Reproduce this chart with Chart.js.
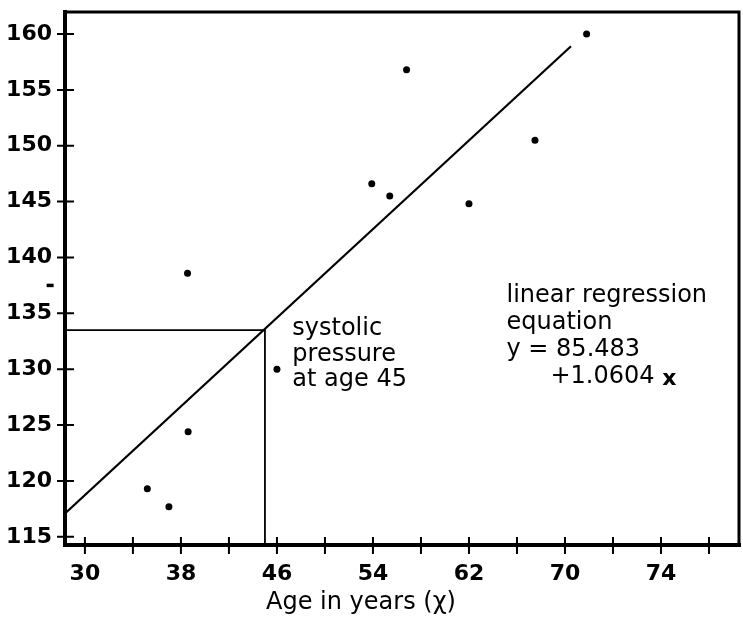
<!DOCTYPE html>
<html><head><meta charset="utf-8">
<script src="https://cdn.jsdelivr.net/npm/chart.js@4/dist/chart.umd.min.js"></script>
<style>html,body{margin:0;padding:0;background:#fff}#wrap{width:743px;height:626px}</style>
</head><body><div id="wrap"><canvas id="c" width="743" height="626"></canvas></div>
<script>
// ---- data ----
const ages      = [38.55, 38.6, 35.2, 37.0, 46.0, 53.9, 55.4, 56.8, 62.0, 67.5, 71.8];
const pressures = [138.6, 124.4, 119.3, 117.7, 130.0, 146.6, 145.5, 156.8, 144.8, 150.5, 160.0];
const strayAges = [27.1];
const strayPressures = [137.5];
const fitAges = [28.34, 70.5];
const fitPressures = [117.1, 158.9];
const guideAges = [28.34, 45, 45];
const guidePressures = [133.5, 133.5, 114.27];
const xTickValues = [30, 34, 38, 42, 46, 50, 54, 58, 62, 66, 70, 74, 78, 82];
const xTickLabels = ["30", "", "38", "", "46", "", "54", "", "62", "", "70", "", "74", ""];
const yTickValues = [115, 120, 125, 130, 135, 140, 145, 150, 155, 160];
const xTitle = "Age in years (\u03C7)";
const noteAge45 = ["systolic", "pressure", "at age 45"];
const noteEquation = ["linear regression", "equation", "y = 85.483", "+1.0604"];

const toPts = (xs, ys) => xs.map((x, i) => ({x: x, y: ys[i]}));
const TICK_FONT = {family: "'DejaVu Sans', sans-serif", size: 22, weight: 'bold'};
const TEXT_FONT = "24px 'DejaVu Sans', sans-serif";

const framePlugin = {
  id: 'frame',
  afterDraw(chart) {
    const {ctx, chartArea: a, scales: {x, y}} = chart;
    ctx.save();
    ctx.strokeStyle = '#000';
    ctx.lineCap = 'square';
    // frame
    ctx.lineWidth = 3;
    ctx.beginPath();
    ctx.moveTo(a.left, a.top); ctx.lineTo(a.right, a.top); ctx.lineTo(a.right, a.bottom);
    ctx.stroke();
    ctx.lineWidth = 4;
    ctx.beginPath();
    ctx.moveTo(a.left, a.top); ctx.lineTo(a.left, a.bottom); ctx.lineTo(a.right, a.bottom);
    ctx.stroke();
    // crossing tick marks
    ctx.lineWidth = 2;
    ctx.lineCap = 'butt';
    ctx.beginPath();
    x.ticks.forEach(t => {
      const px = x.getPixelForValue(t.value);
      ctx.moveTo(px, a.bottom - 8); ctx.lineTo(px, a.bottom + 9);
    });
    y.ticks.forEach(t => {
      const py = y.getPixelForValue(t.value);
      ctx.moveTo(a.left - 8, py); ctx.lineTo(a.left + 9, py);
    });
    ctx.stroke();
    // stray mark left of the axis (outside the plot area)
    ctx.lineWidth = 3.5;
    ctx.beginPath();
    strayAges.forEach((v, i) => {
      const sx = x.getPixelForValue(v), sy = y.getPixelForValue(strayPressures[i]);
      ctx.moveTo(sx - 3.5, sy); ctx.lineTo(sx + 3.5, sy);
    });
    ctx.stroke();
    // annotations
    ctx.fillStyle = '#000';
    ctx.font = TEXT_FONT;
    ctx.textBaseline = 'middle';
    ctx.textAlign = 'left';
    let px = x.getPixelForValue(47.28), py = y.getPixelForValue(133.6);
    noteAge45.forEach((s, i) => ctx.fillText(s, px, py + i * 25.5));
    px = x.getPixelForValue(65.13); py = y.getPixelForValue(136.55);
    const indent = x.getPixelForValue(68.79);
    noteEquation.forEach((s, i) => {
      if (i === 3) {
        ctx.font = TEXT_FONT;
        ctx.fillText(s, indent, py + i * 27);
        const w = ctx.measureText(s + ' ').width;
        ctx.font = "bold 22px 'DejaVu Sans', sans-serif";
        ctx.fillText('x', indent + w, py + i * 27 + 2);
      } else {
        ctx.fillText(s, px, py + i * 27);
      }
    });
    // axis title
    ctx.font = "24px 'DejaVu Sans', sans-serif";
    ctx.textAlign = 'center';
    ctx.fillText(xTitle, x.getPixelForValue(53.0), a.bottom + 58);
    ctx.restore();
  }
};

new Chart(document.getElementById('c'), {
  type: 'scatter',
  data: {
    datasets: [
      {data: toPts(ages, pressures), pointRadius: 3.5, pointBackgroundColor: '#000', pointBorderWidth: 0, showLine: false},
      {data: toPts(fitAges, fitPressures), showLine: true, pointRadius: 0, borderColor: '#000', borderWidth: 2.2},
      {data: toPts(guideAges, guidePressures), showLine: true, pointRadius: 0, borderColor: '#000', borderWidth: 1.8}
    ]
  },
  options: {
    responsive: false,
    animation: false,
    events: [],
    layout: {padding: {top: 12, right: 2, left: 0, bottom: 0}},
    plugins: {legend: {display: false}, tooltip: {enabled: false}},
    scales: {
      x: {
        type: 'linear', min: 28.34, max: 84.5,
        afterBuildTicks: s => { s.ticks = xTickValues.map(v => ({value: v})); },
        afterFit: s => { s.height = 81; s.paddingLeft = 0; s.paddingRight = 0; },
        ticks: {callback: (v, i) => xTickLabels[i], font: TICK_FONT, color: '#000', padding: 16, autoSkip: false, maxRotation: 0},
        grid: {display: false, drawTicks: false},
        border: {display: false}
      },
      y: {
        type: 'linear', min: 114.27, max: 161.97,
        afterBuildTicks: s => { s.ticks = yTickValues.map(v => ({value: v})); },
        afterFit: s => { s.width = 65; s.paddingTop = 0; s.paddingBottom = 0; },
        ticks: {font: TICK_FONT, color: '#000', padding: 13},
        grid: {display: false, drawTicks: false},
        border: {display: false}
      }
    }
  },
  plugins: [framePlugin]
});
</script>
</body></html>
